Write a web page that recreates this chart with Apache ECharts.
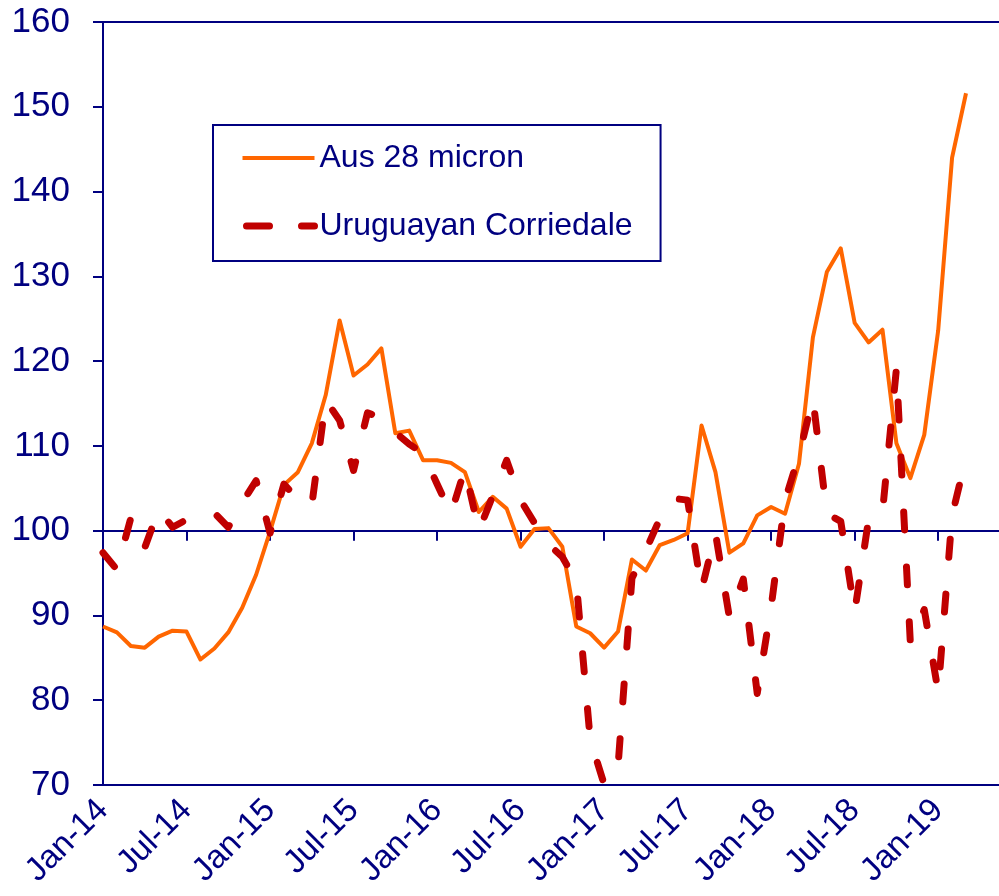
<!DOCTYPE html>
<html>
<head>
<meta charset="utf-8">
<script src="https://cdn.jsdelivr.net/npm/echarts@6/dist/echarts.min.js"></script>
<style>html,body{margin:0;padding:0;background:#fff;}#c{width:999px;height:896px;}</style>
</head>
<body>
<div id="c"></div>
<script>
// Month categories (one point per month)
const months = [
  'Jan-14','Feb-14','Mar-14','Apr-14','May-14','Jun-14','Jul-14','Aug-14','Sep-14','Oct-14','Nov-14','Dec-14',
  'Jan-15','Feb-15','Mar-15','Apr-15','May-15','Jun-15','Jul-15','Aug-15','Sep-15','Oct-15','Nov-15','Dec-15',
  'Jan-16','Feb-16','Mar-16','Apr-16','May-16','Jun-16','Jul-16','Aug-16','Sep-16','Oct-16','Nov-16','Dec-16',
  'Jan-17','Feb-17','Mar-17','Apr-17','May-17','Jun-17','Jul-17','Aug-17','Sep-17','Oct-17','Nov-17','Dec-17',
  'Jan-18','Feb-18','Mar-18','Apr-18','May-18','Jun-18','Jul-18','Aug-18','Sep-18','Oct-18','Nov-18','Dec-18',
  'Jan-19','Feb-19','Mar-19'
];
const aus28 = [
  88.7, 88.0, 86.4, 86.2, 87.5, 88.2, 88.1, 84.8, 86.1, 88.0, 90.9, 94.8,
  99.9, 105.4, 106.9, 110.3, 116.0, 124.8, 118.3, 119.6, 121.5, 111.5, 111.8, 108.3,
  108.3, 108.0, 106.9, 102.2, 104.0, 102.6, 98.1, 100.2, 100.3, 98.1, 88.7, 87.9,
  86.2, 88.1, 96.6, 95.3, 98.3, 98.9, 99.7, 112.4, 106.9, 97.4, 98.5, 101.8,
  102.8, 102.0, 107.9, 122.8, 130.5, 133.3, 124.5, 122.2, 123.7, 110.3, 106.2, 111.3,
  123.6, 144.0, 151.6
];
const uruCorr = [
  97.4, 95.4, 101.5, 98.0, 102.5, 100.4, 101.3, 101.8, 102.1, 100.4, 103.3, 105.9,
  99.7, 105.5, 103.7, 103.0, 115.4, 113.0, 107.1, 113.9, 113.3, 111.6, 110.2, 109.1,
  105.5, 102.0, 107.3, 100.0, 104.1, 108.3, 103.6, 100.9, 98.4, 96.9, 94.0, 75.4,
  70.1, 72.2, 94.4, 97.7, 101.4, 103.8, 103.6, 93.0, 99.7, 89.8, 94.3, 80.8,
  91.0, 103.6, 108.9, 115.6, 102.0, 101.1, 90.4, 101.3, 102.2, 119.1, 86.8, 90.7,
  81.0, 101.8, 108.6
];
const xTickLabels = ['Jan-14','Jul-14','Jan-15','Jul-15','Jan-16','Jul-16','Jan-17','Jul-17','Jan-18','Jul-18','Jan-19'];
const xTickValues = [0, 6, 12, 18, 24, 30, 36, 42, 48, 54, 60];
const seriesNames = ['Aus 28 micron', 'Uruguayan Corriedale'];

const NAVY = '#000080';
const ORANGE = '#FF6600';
const RED = '#C00000';
const FONT = '"Liberation Sans", Arial, sans-serif';

const chart = echarts.init(document.getElementById('c'), null, {renderer: 'canvas'});
const gridTop = 22, gridBottom = 111, H = 896;
const plotH = H - gridTop - gridBottom;
const yMin = 70, yMax = 160;
const crossOffset = -(100 - yMin) / (yMax - yMin) * plotH;

const xCommon = {
  type: 'value', min: 0, max: 64.37, interval: 6,
  splitLine: {show: false}
};
const redDash = [18, 37];

chart.setOption({
  animation: false,
  backgroundColor: '#fff',
  grid: {left: 103, right: 0, top: gridTop, bottom: gridBottom, show: false},
  legend: {
    left: 213, top: 125, orient: 'vertical',
    padding: [17, 28, 19, 26], itemGap: 36, itemWidth: 72, itemHeight: 14,
    borderColor: NAVY, borderWidth: 2, backgroundColor: '#fff',
    textStyle: {fontSize: 32, color: NAVY, fontFamily: FONT, lineHeight: 32},
    data: [
      {name: seriesNames[0], itemStyle: {opacity: 0},
       lineStyle: {color: ORANGE, width: 4, cap: 'butt'}},
      {name: seriesNames[1], itemStyle: {opacity: 0},
       lineStyle: {color: RED, width: 7, type: [23, 32], dashOffset: -4, cap: 'round'}}
    ]
  },
  xAxis: [
    Object.assign({}, xCommon, {
      position: 'bottom',
      axisLine: {show: true, onZero: false, lineStyle: {color: NAVY, width: 2}},
      axisTick: {show: false},
      axisLabel: {
        rotate: 45, margin: 20, fontSize: 33, color: NAVY, fontFamily: FONT,
        showMaxLabel: false,
        formatter: function (v) { return xTickLabels[Math.round(v / 6)] || ''; }
      }
    }),
    Object.assign({}, xCommon, {
      position: 'bottom', offset: crossOffset,
      axisLine: {show: true, onZero: false, lineStyle: {color: NAVY, width: 2}},
      axisTick: {show: true, inside: false, length: 10, customValues: xTickValues,
                 lineStyle: {color: NAVY, width: 2}},
      axisLabel: {show: false}
    }),
    Object.assign({}, xCommon, {
      position: 'top',
      axisLine: {show: true, onZero: false, lineStyle: {color: NAVY, width: 2}},
      axisTick: {show: false},
      axisLabel: {show: false}
    })
  ],
  yAxis: {
    type: 'value', min: yMin, max: yMax, interval: 10,
    axisLine: {show: true, lineStyle: {color: NAVY, width: 2}},
    axisTick: {show: true, length: 10, lineStyle: {color: NAVY, width: 2}},
    splitLine: {show: false},
    axisLabel: {fontSize: 35, color: NAVY, fontFamily: FONT, margin: 33}
  },
  series: [
    {
      name: seriesNames[0], type: 'line', xAxisIndex: 0,
      data: months.map((m, i) => [i, aus28[i]]),
      showSymbol: false, symbol: 'none',
      lineStyle: {color: ORANGE, width: 4, join: 'round'},
      itemStyle: {color: ORANGE},
      z: 3
    },
    {
      name: seriesNames[1], type: 'line', xAxisIndex: 0,
      data: months.map((m, i) => [i, uruCorr[i]]),
      showSymbol: false, symbol: 'none',
      lineStyle: {color: RED, width: 7, type: redDash, cap: 'round', join: 'round'},
      itemStyle: {color: RED},
      z: 4
    }
  ]
});
</script>
</body>
</html>
